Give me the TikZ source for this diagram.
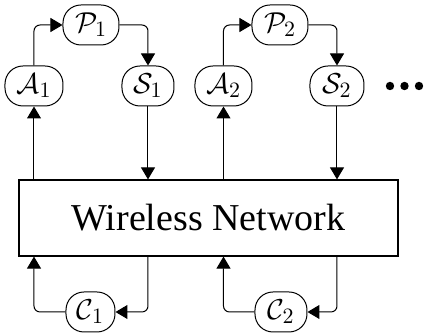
\documentclass[tikz,border=0pt]{standalone}
\usepackage[no-math]{fontspec}
\newfontfamily\netfont{Liberation Serif}
\usetikzlibrary{arrows.meta}
\tikzset{
  x=0.5pt, y=-0.5pt,
  blk/.style={draw, line width=0.5pt, rounded corners=9pt, minimum height=20pt, inner sep=0pt, font=\fontsize{15}{17}\selectfont},
  conn/.style={line width=0.5pt, rounded corners=3pt, -{Triangle[length=6pt,width=7pt]}},
  netbox/.style={draw, line width=0.6pt, minimum width=189.5pt, minimum height=38pt, inner sep=0pt, font=\netfont\fontsize{19}{21}\selectfont},
  dot/.style={circle, fill, inner sep=0pt, minimum size=4.2pt}
}
\begin{document}
\begin{tikzpicture}
\useasboundingbox (0,0) rectangle (425,335);
\node[netbox] (net) at (208.5,218) {Wireless Network};
\node[blk, minimum width=29pt] (A1) at (34,86) {$\mathcal{A}_1$};
\node[blk, minimum width=28pt] (P1) at (91,25) {$\mathcal{P}_1$};
\node[blk, minimum width=26pt] (S1) at (148,86) {$\mathcal{S}_1$};
\node[blk, minimum width=28.5pt] (A2) at (223.5,86) {$\mathcal{A}_2$};
\node[blk, minimum width=28pt] (P2) at (280,25) {$\mathcal{P}_2$};
\node[blk, minimum width=27pt] (S2) at (337,86) {$\mathcal{S}_2$};
\node[blk, minimum width=24.5pt] (C1) at (90.5,312) {$\mathcal{C}_1$};
\node[blk, minimum width=26pt] (C2) at (281,312) {$\mathcal{C}_2$};
\node[dot] (d1) at (390,86) {};
\node[dot] (d2) at (404.5,86) {};
\node[dot] (d3) at (419,86) {};
% group 1
\draw[conn] (net.north -| A1) -- (A1.south);
\draw[conn] (A1.north) |- (P1.west);
\draw[conn] (P1.east) -| (S1.north);
\draw[conn] (S1.south) -- (net.north -| S1);
\draw[conn] (net.south -| S1) |- (C1.east);
\draw[conn] (C1.west) -| (net.south -| A1);
% group 2
\draw[conn] (net.north -| A2) -- (A2.south);
\draw[conn] (A2.north) |- (P2.west);
\draw[conn] (P2.east) -| (S2.north);
\draw[conn] (S2.south) -- (net.north -| S2);
\draw[conn] (net.south -| S2) |- (C2.east);
\draw[conn] (C2.west) -| (net.south -| A2);
\end{tikzpicture}
\end{document}
